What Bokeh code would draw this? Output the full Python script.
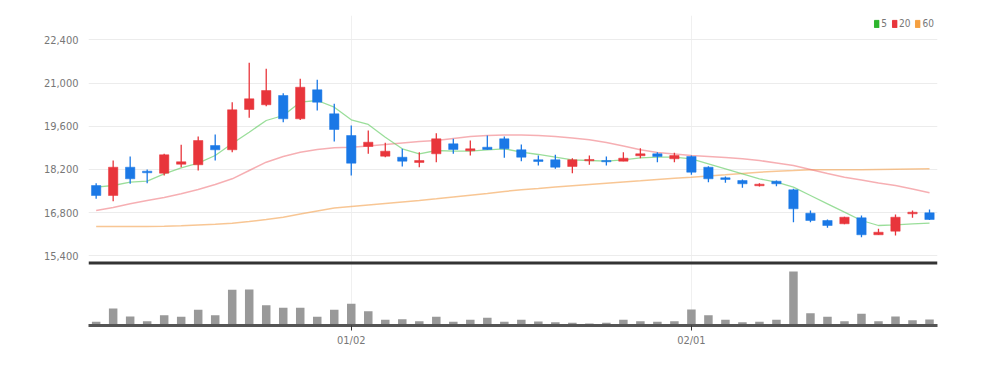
from bokeh.plotting import figure
from bokeh.models import (ColumnDataSource, Range1d, FixedTicker,
                          NumeralTickFormatter, Span, Legend, LegendItem)
from bokeh.embed import file_html
from bokeh.resources import INLINE

# ---- data ----
dates_ticks = [15, 35]
date_labels = ["01/02", "02/01"]

opens = [17679, 17355, 18272, 18143, 18078, 18369, 18350, 18975, 18836, 20142,
         20294, 20595, 19840, 20780, 20002, 19299, 18943, 18629, 18596, 18425,
         18706, 19030, 18804, 18920, 19192, 18836, 18512, 18512, 18295, 18480,
         18489, 18467, 18642, 18706, 18544, 18619, 18272, 17929, 17841, 17670,
         17819, 17540, 16782, 16545, 16438, 16633, 16082, 16199, 16762, 16795]
highs = [17754, 18489, 18619, 18198, 18706, 18998, 19267, 19332, 20378, 21655,
         21460, 20670, 21136, 21104, 20326, 19623, 19461, 19063, 18868, 18758,
         19374, 19192, 19137, 19299, 19267, 19008, 18651, 18674, 18564, 18651,
         18619, 18758, 18888, 18758, 18739, 18651, 18300, 17971, 17874, 17754,
         17841, 17572, 16869, 16578, 16670, 16707, 16276, 16740, 16869, 16902]
lows = [17248, 17171, 17734, 17754, 18003, 18272, 18165, 18489, 18758, 19873,
        20249, 19730, 19800, 20109, 19105, 18003, 18706, 18596, 18295, 18272,
        18434, 18706, 18651, 18836, 18577, 18467, 18327, 18220, 18078, 18350,
        18327, 18467, 18564, 18434, 18434, 18026, 17786, 17767, 17605, 17647,
        17657, 16490, 16490, 16309, 16420, 16004, 16082, 16059, 16633, 16560]
closes = [17355, 18272, 17896, 18091, 18674, 18447, 19137, 18836, 20132, 20488,
          20757, 19840, 20864, 20378, 19494, 18402, 19082, 18791, 18467, 18489,
          19192, 18846, 18868, 18846, 18868, 18596, 18457, 18272, 18512, 18522,
          18447, 18564, 18706, 18619, 18651, 18110, 17896, 17874, 17734, 17722,
          17734, 16924, 16545, 16383, 16652, 16082, 16166, 16652, 16814, 16578]
volumes = [11, 51, 27, 13, 31, 26, 47, 31, 107, 108,
           61, 53, 53, 26, 47, 65, 43, 17, 19, 13,
           26, 11, 17, 23, 11, 17, 12, 10, 8, 6,
           8, 17, 13, 11, 13, 48, 31, 17, 10, 11,
           17, 162, 37, 26, 13, 35, 13, 27, 16, 18]
volumes = [v * 1000 for v in volumes]
ma5 = [17624, 17679, 17786, 17819, 18058, 18253, 18402, 18651, 19040, 19406,
       19785, 19947, 20378, 20433, 20216, 19808, 19656, 19244, 18868, 18706,
       18813, 18791, 18791, 18836, 18868, 18758, 18684, 18596, 18512, 18489,
       18467, 18512, 18577, 18596, 18596, 18544, 18382, 18220, 18058, 17896,
       17786, 17624, 17355, 17086, 16814, 16545, 16383, 16406, 16438, 16458]
ma20 = [16869, 16966, 17086, 17193, 17291, 17410, 17550, 17712, 17896, 18165,
        18434, 18619, 18758, 18846, 18901, 18920, 18959, 19008, 19056, 19105,
        19137, 19202, 19267, 19299, 19316, 19316, 19299, 19267, 19218, 19160,
        19073, 18959, 18836, 18749, 18700, 18651, 18619, 18587, 18544, 18489,
        18408, 18327, 18198, 18068, 17948, 17858, 17760, 17679, 17566, 17443]
ma60 = [16351, 16351, 16351, 16351, 16361, 16374, 16400, 16425, 16458, 16513,
        16578, 16652, 16756, 16853, 16950, 16999, 17048, 17096, 17145, 17193,
        17248, 17307, 17365, 17420, 17485, 17540, 17582, 17627, 17670, 17712,
        17754, 17793, 17832, 17874, 17913, 17948, 17987, 18026, 18068, 18107,
        18143, 18165, 18188, 18188, 18188, 18188, 18198, 18207, 18214, 18220]
price_ticks = [15400, 16800, 18200, 19600, 21000, 22400]

# ---- styling ----
UP = "#e8353b"
DOWN = "#1a78e6"
FONT = "'Liberation Sans Narrow', 'DejaVu Sans Condensed', 'Roboto', sans-serif"

idx = list(range(len(opens)))
up = [c >= o for o, c in zip(opens, closes)]
src = ColumnDataSource(dict(
    x=idx, o=opens, h=highs, l=lows, c=closes, v=volumes,
    top=[max(o, c) for o, c in zip(opens, closes)],
    bot=[min(o, c) for o, c in zip(opens, closes)],
    color=[UP if u else DOWN for u in up],
    ma5=ma5, ma20=ma20, ma60=ma60,
))

p = figure(width=983, height=349, output_backend="svg", toolbar_location=None,
           x_range=Range1d(-0.45, 49.47), y_range=Range1d(13143, 23187),
           min_border_left=88, min_border_right=46, min_border_top=15,
           min_border_bottom=24)
p.outline_line_color = None
p.background_fill_color = "white"
p.border_fill_color = "white"
p.extra_y_ranges = {"vol": Range1d(0, 930000)}

# grid
p.ygrid.ticker = FixedTicker(ticks=price_ticks)
p.ygrid.grid_line_color = "#ececec"
p.xgrid.ticker = FixedTicker(ticks=dates_ticks)
p.xgrid.grid_line_color = "#f0f0f0"

# y axis
yax = p.yaxis[0]
yax.ticker = FixedTicker(ticks=price_ticks)
yax.formatter = NumeralTickFormatter(format="0,0")
yax.axis_line_color = None
yax.major_tick_line_color = None
yax.minor_tick_line_color = None
yax.major_label_standoff = 4
yax.major_label_text_color = "#777777"
yax.major_label_text_font = FONT
yax.major_label_text_font_size = "11px"

# x axis
xax = p.xaxis[0]
xax.ticker = FixedTicker(ticks=dates_ticks)
xax.major_label_overrides = {t: s for t, s in zip(dates_ticks, date_labels)}
xax.axis_line_color = "#555555"
xax.axis_line_width = 3
xax.major_tick_line_color = "#333333"
xax.major_tick_in = 0
xax.major_tick_out = 5
xax.minor_tick_line_color = None
xax.major_label_standoff = 3
xax.major_label_text_color = "#777777"
xax.major_label_text_font = FONT
xax.major_label_text_font_size = "11px"

# separator between price and volume
p.add_layout(Span(location=15168, dimension="width", line_color="#333333", line_width=3))

# volume bars
p.vbar(x="x", top="v", bottom=0, width=0.5, source=src, y_range_name="vol",
       fill_color="#999999", line_color=None)

# moving averages
p.line("x", "ma60", source=src, line_color="#f5a75a", line_alpha=0.65, line_width=1.5)
p.line("x", "ma20", source=src, line_color="#f07a80", line_alpha=0.6, line_width=1.5)
p.line("x", "ma5", source=src, line_color="#6fd06f", line_alpha=0.7, line_width=1.3)

# candles
p.segment(x0="x", y0="l", x1="x", y1="h", source=src, line_color="color", line_width=1.3)
p.vbar(x="x", top="top", bottom="bot", width=0.55, source=src,
       fill_color="color", line_color="color", line_width=0.5)

# legend (square swatches): renderers with a single undrawable (NaN) row
nan = float("nan")
def swatch(color):
    s = ColumnDataSource(dict(l=[nan], r=[nan], t=[nan], b=[nan]))
    return p.quad(left="l", right="r", top="t", bottom="b", source=s,
                  fill_color=color, line_color=color)
r5 = swatch("#2db52d")
r20 = swatch("#e8353b")
r60 = swatch("#f5a040")
leg = Legend(items=[LegendItem(label="5", renderers=[r5]),
                    LegendItem(label="20", renderers=[r20]),
                    LegendItem(label="60", renderers=[r60])],
             orientation="horizontal", location="top_right")
leg.glyph_width = 6
leg.glyph_height = 9
leg.label_standoff = 2
leg.label_width = 0
leg.spacing = 4
leg.padding = 0
leg.margin = 3
leg.border_line_alpha = 0
leg.background_fill_alpha = 0
leg.label_text_font = FONT
leg.label_text_font_size = "10px"
leg.label_text_color = "#777777"
leg.label_height = 10
p.add_layout(leg)

open("out.html", "w").write(file_html(p, INLINE))
